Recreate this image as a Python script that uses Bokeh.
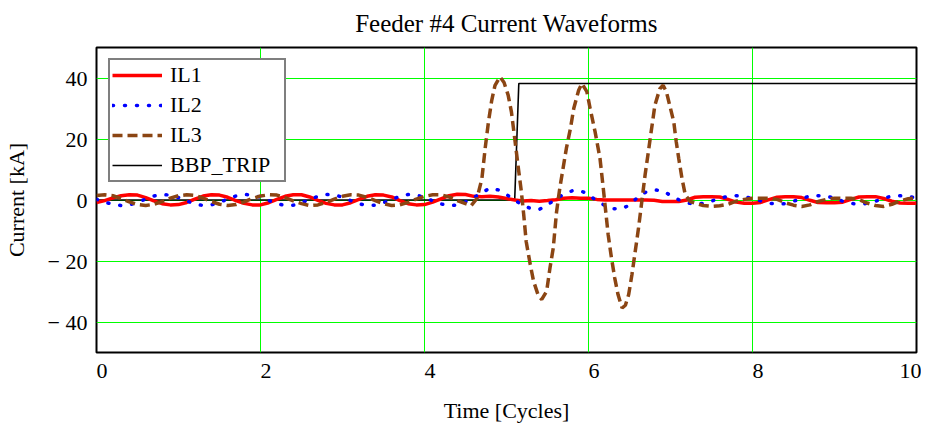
from bokeh.plotting import figure
from bokeh.models import Range1d, FixedTicker, Legend, LegendItem
from bokeh.embed import file_html
from bokeh.resources import INLINE

# ---------------- data ----------------
# common time samples [cycles] for IL1 and IL2
T = [0.0, 0.1, 0.2, 0.3, 0.4, 0.5, 0.6, 0.7, 0.8, 0.9,
     1.0, 1.1, 1.2, 1.3, 1.4, 1.5, 1.6, 1.7, 1.8, 1.9,
     2.0, 2.1, 2.2, 2.3, 2.4, 2.5, 2.6, 2.7, 2.8, 2.9,
     3.0, 3.1, 3.2, 3.3, 3.4, 3.5, 3.6, 3.7, 3.8, 3.9,
     4.0, 4.1, 4.2, 4.3, 4.4, 4.5, 4.6, 4.7, 4.8, 4.9,
     5.0, 5.1, 5.2, 5.3, 5.4, 5.5, 5.6, 5.7, 5.8, 5.9,
     6.0, 6.1, 6.2, 6.3, 6.4, 6.5, 6.6, 6.7, 6.8, 6.9,
     7.0, 7.1, 7.2, 7.3, 7.4, 7.5, 7.6, 7.7, 7.8, 7.9,
     8.0, 8.1, 8.2, 8.3, 8.4, 8.5, 8.6, 8.7, 8.8, 8.9,
     9.0, 9.1, 9.2, 9.3, 9.4, 9.5, 9.6, 9.7, 9.8, 9.9,
     10.0]

IL1 = [-0.8, -0.2, 0.7, 1.4, 1.7, 1.6, 0.8, -0.3, -1.2, -1.6,
       -1.5, -0.8, 0.3, 1.3, 1.7, 1.6, 0.9, -0.2, -1.1, -1.6,
       -1.6, -0.9, 0.2, 1.2, 1.7, 1.7, 1.0, -0.1, -1.1, -1.6,
       -1.6, -0.9, 0.2, 1.2, 1.7, 1.6, 1.0, -0.2, -1.2, -1.6,
       -1.5, -0.7, 0.4, 1.4, 1.9, 1.8, 1.2, 1.1, 1.2, 1.0,
       0.5, 0.0, -0.3, -0.2, -0.4, -0.2, 0.1, 0.6, 0.7, 0.6,
       0.6, 0.2, 0.0, 0.0, 0.0, 0.0, 0.0, 0.0, -0.1, -0.5,
       -0.5, -0.5, 0.0, 0.9, 1.1, 1.1, 1.0, 0.2, -0.7, -1.1,
       -1.1, -0.8, 0.1, 0.9, 1.1, 1.1, 0.8, -0.1, -0.8, -0.9,
       -0.9, -0.7, 0.2, 1.0, 1.1, 1.1, 0.5, -0.4, -1.0, -1.1,
       -1.1]

IL2 = [0.2, -0.7, -1.4, -1.8, -1.6, -0.8, 0.3, 1.3, 1.8, 1.6,
       0.8, -0.3, -1.3, -1.8, -1.6, -0.8, 0.3, 1.3, 1.8, 1.7,
       0.9, -0.2, -1.2, -1.8, -1.7, -0.9, 0.2, 1.2, 1.8, 1.7,
       0.9, -0.2, -1.2, -1.8, -1.7, -0.9, 0.2, 1.2, 1.8, 1.6,
       0.9, -0.3, -1.3, -1.8, -1.7, -0.6, 0.8, 2.4, 3.9, 3.3,
       1.8, 0.0, -1.8, -2.8, -3.1, -1.6, 0.3, 1.9, 3.0, 3.1,
       1.8, -0.3, -1.8, -2.9, -2.9, -1.7, 0.9, 2.6, 3.3, 3.1,
       1.5, 0.1, -0.9, -1.4, -1.1, -0.4, 0.6, 1.2, 1.4, 1.1,
       0.5, -0.3, -1.0, -1.4, -1.2, -0.4, 0.5, 1.3, 1.4, 1.3,
       0.6, -0.4, -1.1, -1.4, -1.1, -0.4, 0.6, 1.3, 1.4, 1.2,
       0.6]

# IL3 has its own (denser around the fault) time samples
T3 = [0.0, 0.1, 0.2, 0.3, 0.4, 0.5, 0.6, 0.7, 0.8, 0.9,
      1.0, 1.1, 1.2, 1.3, 1.4, 1.5, 1.6, 1.7, 1.8, 1.9,
      2.0, 2.1, 2.2, 2.3, 2.4, 2.5, 2.6, 2.7, 2.8, 2.9,
      3.0, 3.1, 3.2, 3.3, 3.4, 3.5, 3.6, 3.7, 3.8, 3.9,
      4.0, 4.1, 4.2, 4.3, 4.4, 4.5, 4.57, 4.64, 4.70, 4.74,
      4.78, 4.82, 4.86, 4.92, 4.97, 5.02, 5.06, 5.10, 5.15, 5.18,
      5.21, 5.24, 5.29, 5.33, 5.39, 5.43, 5.49, 5.53, 5.57, 5.61,
      5.65, 5.69, 5.73, 5.78, 5.82, 5.88, 5.92, 5.98, 6.02, 6.08,
      6.14, 6.18, 6.24, 6.28, 6.32, 6.36, 6.41, 6.45, 6.49, 6.53,
      6.57, 6.61, 6.65, 6.69, 6.73, 6.77, 6.81, 6.87, 6.91, 6.95,
      6.99, 7.04, 7.07, 7.10, 7.14, 7.18, 7.24, 7.3, 7.4, 7.5,
      7.6, 7.7, 7.8, 7.9, 8.0, 8.1, 8.2, 8.3, 8.4, 8.5,
      8.6, 8.7, 8.8, 8.9, 9.0, 9.1, 9.2, 9.3, 9.4, 9.5,
      9.6, 9.7, 9.8, 9.9, 10.0]

IL3 = [1.5, 1.7, 1.4, 0.5, -0.6, -1.5, -1.8, -1.4, -0.5, 0.6,
       1.4, 1.7, 1.5, 0.6, -0.5, -1.4, -1.8, -1.5, -0.6, 0.5,
       1.3, 1.7, 1.6, 0.8, -0.3, -1.2, -1.8, -1.6, -0.8, 0.3,
       1.2, 1.7, 1.6, 0.9, -0.2, -1.2, -1.8, -1.6, -0.8, 0.3,
       1.2, 1.7, 1.7, 1.0, -0.2, -1.2, -1.8, 0.5, 7.0, 17.0,
       25.6, 32.7, 37.6, 40.4, 38.5, 34.4, 28.9, 20.2, 9.3, 3.0,
       -4.8, -13.6, -21.2, -26.6, -31.5, -32.6, -29.9, -22.3, -15.8, -4.0,
       3.9, 10.4, 16.9, 23.5, 30.0, 36.0, 38.2, 35.5, 30.0, 22.4,
       13.7, 3.9, -11.4, -19.0, -25.6, -31.0, -35.4, -34.5, -31.0, -24.4,
       -16.8, -9.2, -0.5, 8.2, 15.8, 23.5, 31.1, 36.5, 37.6, 35.5,
       31.1, 25.6, 19.1, 13.7, 7.1, 1.7, -0.5, -1.0, -1.8, -2.1,
       -1.9, -1.4, -0.4, 0.2, 0.6, 0.6, 0.6, 0.2, -0.9, -1.7,
       -2.1, -1.6, -0.5, 0.2, 0.6, 0.6, 0.6, 0.1, -1.0, -1.8,
       -2.1, -1.4, -0.3, 0.4, 0.7]

TRIP_T = [0.0, 5.10, 5.15, 10.0]
TRIP = [0.0, 0.0, 38.2, 38.2]

X_TICKS = [0, 2, 4, 6, 8, 10]
Y_TICKS = [-40, -20, 0, 20, 40]
Y_LABELS = {-40: "\u2212 40", -20: "\u2212 20", 0: "0", 20: "20", 40: "40"}

FONT = "Liberation Serif"

# ---------------- figure ----------------
p = figure(width=921, height=425, x_range=Range1d(0, 10), y_range=Range1d(-50, 50),
           output_backend="svg", toolbar_location=None,
           min_border_left=89, min_border_right=5, min_border_top=38, min_border_bottom=73,
           title="Feeder #4 Current Waveforms")
p.background_fill_color = "white"
p.border_fill_color = "white"
p.outline_line_color = "black"
p.outline_line_width = 2

p.title.text_font = FONT
p.title.text_font_size = "25px"
p.title.text_font_style = "normal"
p.title.text_color = "black"
p.title.align = "center"
p.title.vertical_align = "top"
p.title.standoff = 18

for g, ticks in ((p.xgrid, X_TICKS), (p.ygrid, Y_TICKS)):
    g.ticker = FixedTicker(ticks=ticks)
    g.grid_line_color = "#00FF00"
    g.grid_line_width = 1

p.xaxis.ticker = FixedTicker(ticks=X_TICKS)
p.yaxis.ticker = FixedTicker(ticks=Y_TICKS)
p.yaxis.major_label_overrides = Y_LABELS
p.xaxis.axis_label = "Time [Cycles]"
p.yaxis.axis_label = "Current [kA]"
for ax in (p.xaxis[0], p.yaxis[0]):
    ax.axis_line_color = None
    ax.major_tick_line_color = None
    ax.minor_tick_line_color = None
    ax.major_label_text_font = FONT
    ax.major_label_text_font_size = "22px"
    ax.major_label_text_color = "black"
    ax.axis_label_text_font = FONT
    ax.axis_label_text_font_size = "22px"
    ax.axis_label_text_font_style = "normal"
    ax.axis_label_text_color = "black"
# tiny negative angle -> labels are left-aligned at their tick (as in the reference)
p.xaxis.major_label_orientation = -1e-9
p.xaxis.major_label_text_line_height = 0.9
p.xaxis.axis_label_text_line_height = 0.6
p.xaxis.major_label_standoff = 12
p.xaxis.axis_label_standoff = 10
p.yaxis.major_label_standoff = 3
p.yaxis.axis_label_standoff = 16

r_trip = p.line(TRIP_T, TRIP, line_color="black", line_width=1.6)
r1 = p.line(T, IL1, line_color="#FF0000", line_width=3.5)
r2 = p.line(T, IL2, line_color="#0000FF", line_width=3.5, line_dash="1 11", line_cap="round")
r3 = p.line(T3, IL3, line_color="#8B4513", line_width=3.5, line_dash="10 5")

legend = Legend(items=[LegendItem(label="IL1", renderers=[r1]),
                       LegendItem(label="IL2", renderers=[r2]),
                       LegendItem(label="IL3", renderers=[r3]),
                       LegendItem(label="BBP_TRIP", renderers=[r_trip])],
                location=(12, 170), margin=0)
legend.border_line_color = "black"
legend.border_line_width = 2
legend.background_fill_color = "white"
legend.background_fill_alpha = 1
legend.label_text_font = FONT
legend.label_text_font_size = "22px"
legend.label_text_color = "black"
legend.glyph_width = 50
legend.glyph_height = 22
legend.label_height = 22
legend.label_width = 112
legend.label_standoff = 8
legend.padding = 2
legend.spacing = 4
p.add_layout(legend)

open("out.html", "w").write(file_html(p, INLINE))
